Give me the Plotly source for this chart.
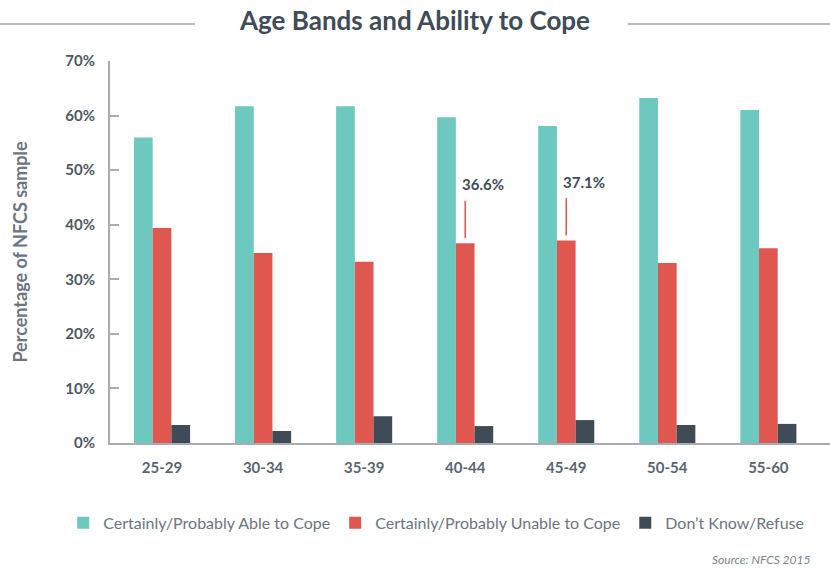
import plotly.graph_objects as go

age_bands = ["25-29", "30-34", "35-39", "40-44", "45-49", "50-54", "55-60"]
able = [56.0, 61.7, 61.7, 59.7, 58.1, 63.2, 61.0]
unable = [39.4, 34.8, 33.2, 36.6, 37.1, 33.0, 35.7]
dont_know = [3.3, 2.2, 4.9, 3.1, 4.2, 3.3, 3.5]
series_names = ["Certainly/Probably Able to Cope",
                "Certainly/Probably Unable to Cope",
                "Don\u2019t Know/Refuse"]
y_ticks = [0, 10, 20, 30, 40, 50, 60, 70]
y_tick_labels = ["0%", "10%", "20%", "30%", "40%", "50%", "60%", "70%"]
highlight_bands = ["40-44", "45-49"]

colors = ["#6dc9bf", "#e05750", "#3f4c57"]
axis_grey = "#a9adb3"
body = "Lato, Open Sans, sans-serif"

fig = go.Figure()
for name, vals, col in zip(series_names, [able, unable, dont_know], colors):
    fig.add_trace(go.Bar(x=age_bands, y=vals, name=name, marker_color=col,
                         marker_line_width=0, hoverinfo="skip"))

for band in highlight_bands:
    v = unable[age_bands.index(band)]
    fig.add_annotation(x=band, y=v, text="", showarrow=True, arrowhead=0,
                       arrowwidth=1.5, arrowcolor=colors[1], ax=0, ay=-44,
                       standoff=5)
    fig.add_annotation(x=band, y=v, text=f"{v:.1f}%", showarrow=False,
                       xanchor="left", yanchor="middle", xshift=-5, yshift=59,
                       font=dict(family=body, size=15, color="#3f4c57",
                                 weight="bold"))

fig.add_annotation(xref="paper", yref="paper", x=0.975, y=-0.306,
                   text="<i>Source: NFCS 2015</i>", showarrow=False,
                   xanchor="right", yanchor="middle",
                   font=dict(family=body, size=12, color="#7a828a"))

# title decoration lines
fig.add_shape(type="line", xref="paper", yref="paper", x0=-0.153, x1=0.118,
              y0=1.097, y1=1.097, line=dict(color="#a0a6ad", width=1.5))
fig.add_shape(type="line", xref="paper", yref="paper", x0=0.719, x1=1.0,
              y0=1.097, y1=1.097, line=dict(color="#a0a6ad", width=1.5))

fig.update_layout(
    width=830, height=569,
    margin=dict(l=110, r=0, t=61, b=126),
    paper_bgcolor="white", plot_bgcolor="white",
    barmode="group", bargap=0.445, bargroupgap=0,
    title=dict(text="<b>Age Bands and Ability to Cope</b>", x=0.5,
               xanchor="center", y=0.963, yanchor="middle",
               xref="container",
               font=dict(family=body, size=26, color="#3f4c57")),
    xaxis=dict(range=[-0.515, 6.61], showline=True, linecolor=axis_grey,
               linewidth=2, ticks="", showgrid=False, zeroline=False,
               tickfont=dict(family=body, size=15, color="#5a6570",
                             weight="bold"),
               ticklabelstandoff=10),
    yaxis=dict(range=[0, 70], tickvals=y_ticks, ticktext=y_tick_labels,
               showline=True, linecolor=axis_grey, linewidth=2,
               ticks="inside", ticklen=9, tickwidth=2, tickcolor=axis_grey,
               showgrid=False, zeroline=False,
               tickfont=dict(family=body, size=15, color="#4d5862",
                             weight="bold"),
               ticklabelstandoff=10,
               title=dict(text="Percentage of NFCS sample", standoff=33,
                          font=dict(family=body, size=18, color="#6b7580",
                                    weight="bold"))),
    legend=dict(orientation="h", x=-0.065, y=-0.209, xanchor="left",
                yanchor="middle",
                font=dict(family=body, size=16, color="#6b7580"),
                itemclick=False, traceorder="normal"),
    showlegend=True,
)

fig.write_html("out.html", config={"displayModeBar": False},
               post_script="document.body.style.margin='0px';")
